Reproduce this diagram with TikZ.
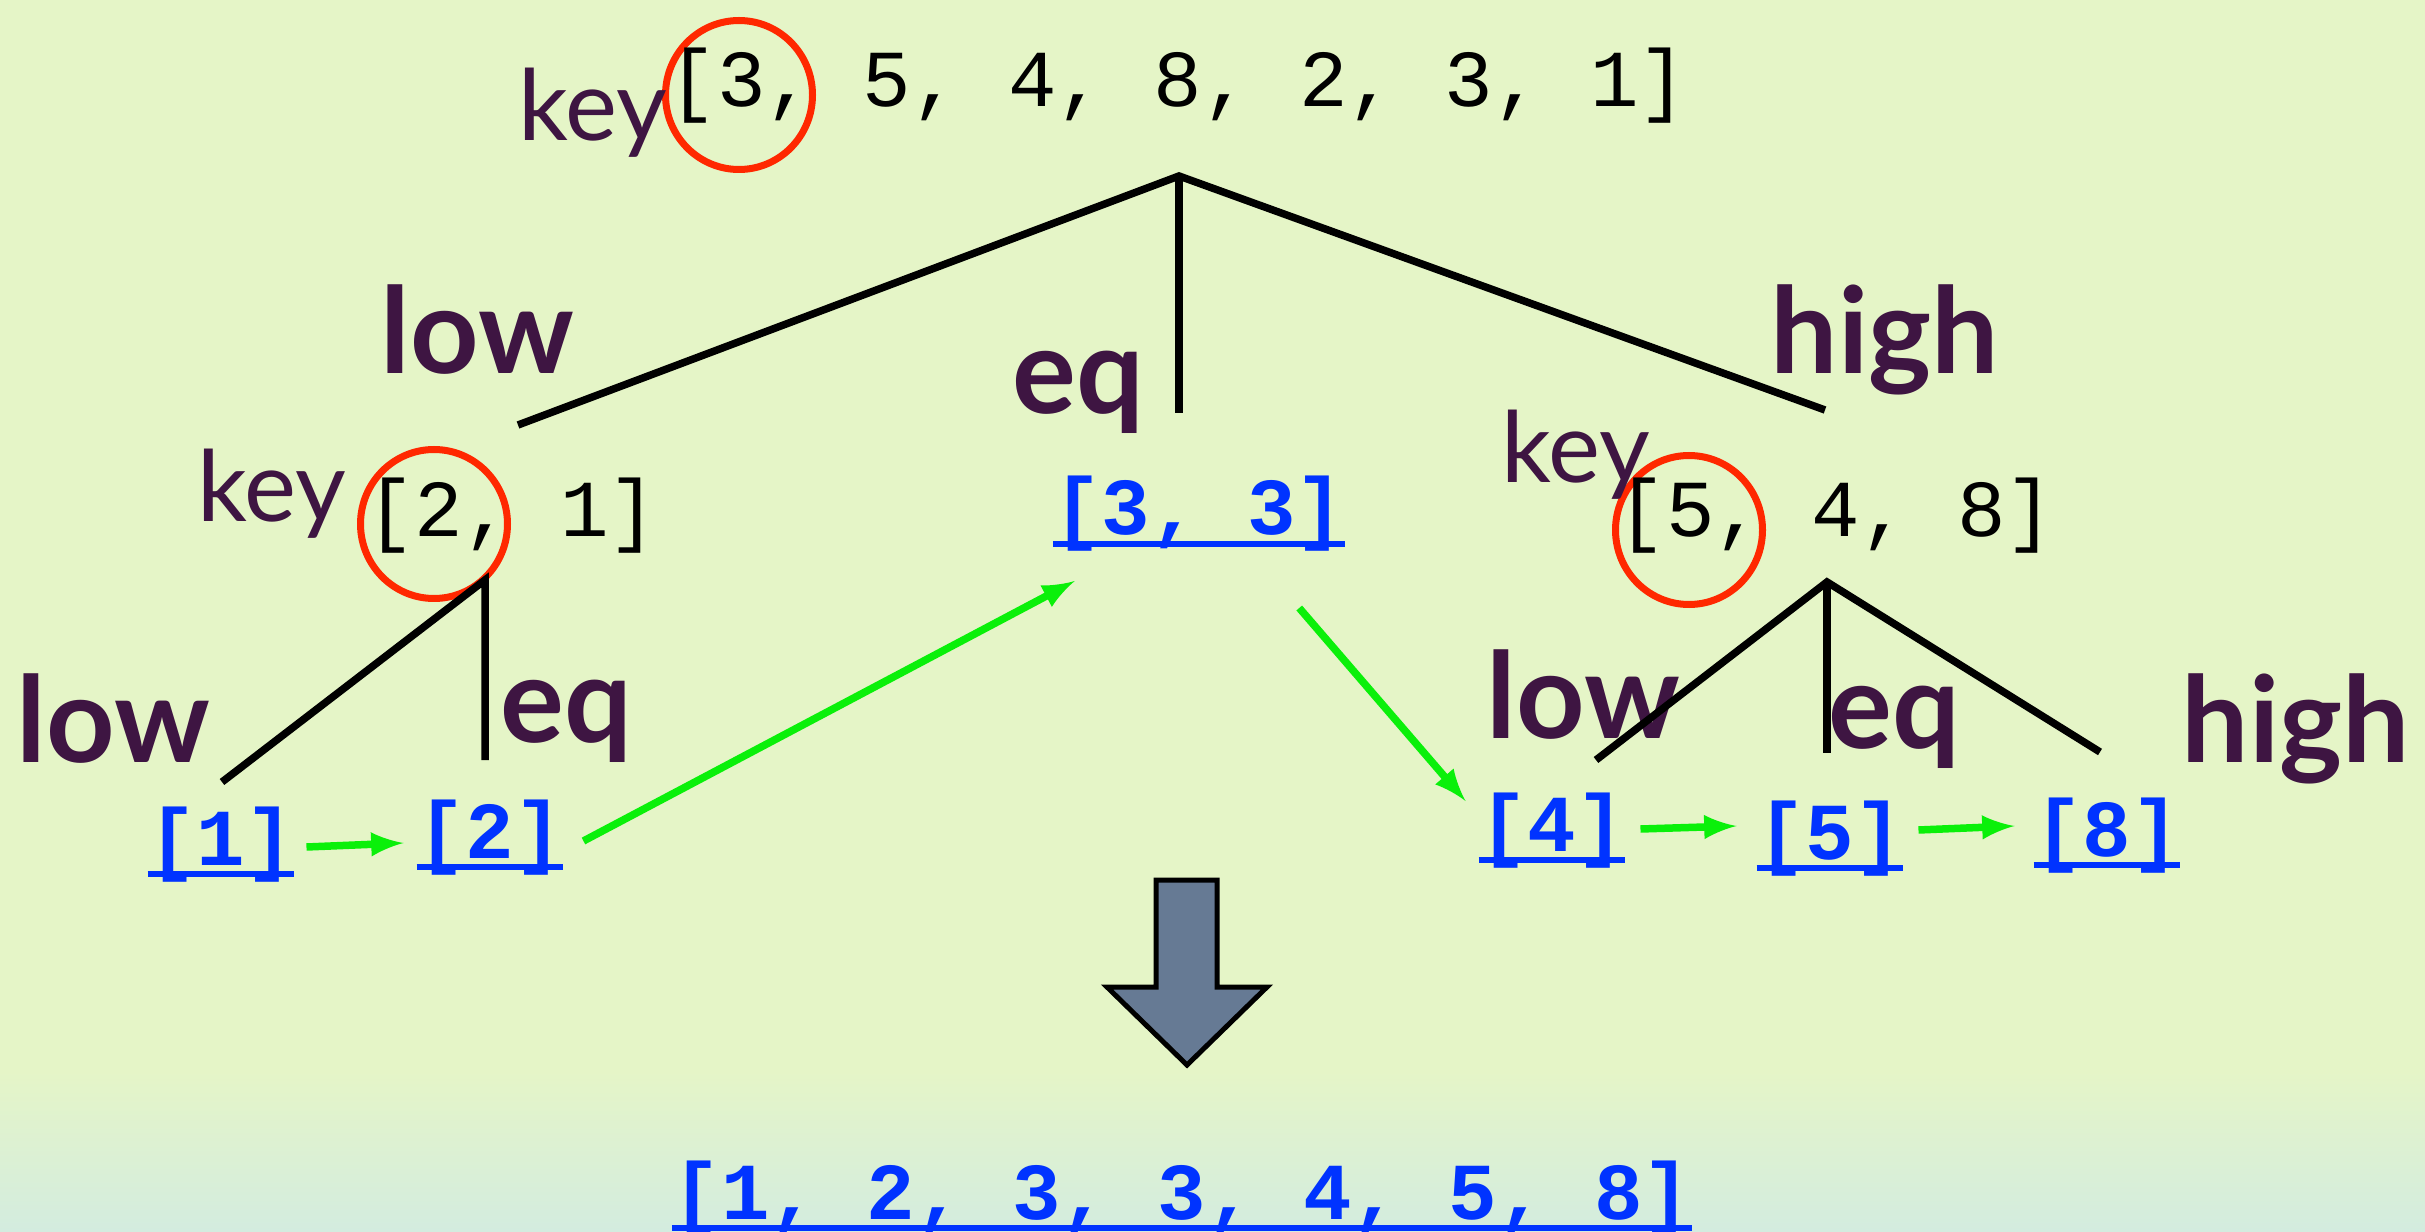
\documentclass[tikz,border=0pt]{standalone}
\usepackage{fontspec}
\setmainfont{Lato}
\setmonofont{Liberation Mono}
\usetikzlibrary{arrows,positioning,calc,shapes.geometric}

\definecolor{bggreen}{RGB}{229,245,199}
\definecolor{bgcyan}{RGB}{211,236,223}
\definecolor{plum}{RGB}{62,21,66}
\definecolor{ringred}{RGB}{255,40,0}
\definecolor{linkblue}{RGB}{0,51,255}
\definecolor{flowgreen}{RGB}{10,240,10}
\definecolor{slate}{RGB}{102,122,148}

\begin{document}
\begin{tikzpicture}[x=0.1mm, y=-0.1mm]
    \tikzset{
      arr/.style={font=\ttfamily\fontsize{23}{27}\selectfont, inner sep=0pt, anchor=base},
      leaf/.style={font=\ttfamily\bfseries\fontsize{23}{27}\selectfont, text=linkblue,
                   inner sep=0pt, anchor=base,
                   append after command={([yshift=-0.9mm]\tikzlastnode.base west)
                     edge[draw=linkblue, line width=0.6mm] ([yshift=-0.9mm]\tikzlastnode.base east)}},
      keyw/.style={font=\fontsize{28}{32}\selectfont, text=plum, inner sep=0pt, anchor=base west},
      lab/.style={font=\bfseries\fontsize{34}{39}\selectfont, text=plum, inner sep=0pt, anchor=base west},
      ring/.style={draw=ringred, line width=0.7mm, ellipse, inner sep=0pt,
                   minimum width=14.7mm, minimum height=14.9mm},
      branch/.style={line width=0.75mm},
      flow/.style={draw=flowgreen, line width=0.75mm, -latex},
    }
    \useasboundingbox (0,0) rectangle (2425,1232);
    \fill[bggreen] (0,0) rectangle (2425,1232);
    \shade[top color=bggreen, bottom color=bgcyan] (0,1070) rectangle (2425,1232);

    % pivots
    \node[ring] (ring0) at (739,95) {};
    \node[ring] (ring1) at (434,524) {};
    \node[ring] (ring2) at (1689,530) {};

    % arrays to split
    \node[keyw] (key0) at (518,141) {key};
    \node[arr] (arr0) at (1178,107) {[3, 5, 4, 8, 2, 3, 1]};
    \node[keyw] (key1) at (197,522) {key};
    \node[arr] (arr1) at (512,537) {[2, 1]};
    \node[keyw] (key2) at (1501,483) {key};
    \node[arr] (arr2) at (1836,537) {[5, 4, 8]};

    % sorted pieces
    \node[leaf] (l33) at (1199,535) {[3, 3]};
    \node[leaf] (l1) at (221,865) {[1]};
    \node[leaf] (l2) at (490,858) {[2]};
    \node[leaf] (l4) at (1552,851) {[4]};
    \node[leaf] (l5) at (1830,859) {[5]};
    \node[leaf] (l8) at (2107,856) {[8]};
    \node[leaf] (res) at (1182,1219) {[1, 2, 3, 3, 4, 5, 8]};

    % branch labels
    \node[lab] (lowA) at (380,374) {low};
    \node[lab] (eqA) at (1012,414) {eq};
    \node[lab] (highA) at (1770,374) {high};
    \node[lab] (lowB) at (16,762) {low};
    \node[lab] (eqB) at (500,742) {eq};
    \node[lab] (lowC) at (1486,738) {low};
    \node[lab] (eqC) at (1828,748) {eq};
    \node[lab] (highC) at (2181,762) {high};

    % tree
    \coordinate (r0) at (1179,176);
    \coordinate (r0lo) at (518,425);
    \coordinate (r0eq) at (1179,413);
    \coordinate (r0hi) at (1825,410);
    \coordinate (r1) at (485,580);
    \coordinate (r1lo) at (222,782);
    \coordinate (r1eq) at (485,760);
    \coordinate (r2) at (1827,582);
    \coordinate (r2lo) at (1596,760);
    \coordinate (r2eq) at (1827,753);
    \coordinate (r2hi) at (2100,752);
    \draw[branch] (r0lo) -- (r0) -- (r0hi);
    \draw[branch] (r0) -- (r0eq);
    \draw[branch] (r1lo) -- (r1) -- (r1eq);
    \draw[branch] (r2lo) -- (r2) -- (r2hi);
    \draw[branch] (r2) -- (r2eq);

    % concatenation order
    \draw[flow] ($(l1.base east)+(12,-18)$) -- ($(l2.base west)+(-13,-15)$);
    \draw[flow] ($(l2.base east)+(20,-17)$) -- ($(l33.base west)+(22,46)$);
    \draw[flow] ($(l33.base east)+(-46,73)$) -- ($(l4.base west)+(-13,-50)$);
    \draw[flow] ($(l4.base east)+(15,-22)$) -- ($(l5.base west)+(-20,-33)$);
    \draw[flow] ($(l5.base east)+(15,-29)$) -- ($(l8.base west)+(-19,-30)$);

    % big arrow
    \draw[fill=slate, line width=0.5mm, line join=miter]
      (1156,880) -- (1217,880) -- (1217,987) -- (1267,987) -- (1187,1065)
      -- (1107,987) -- (1156,987) -- cycle;
  \end{tikzpicture}
\end{document}
